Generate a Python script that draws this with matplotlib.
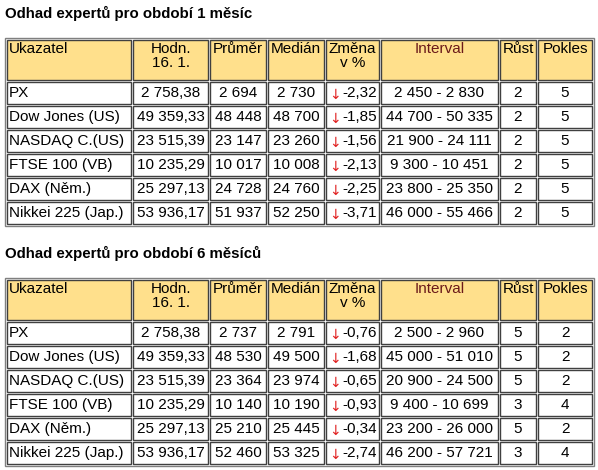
import matplotlib.pyplot as plt
from matplotlib.patches import Rectangle

plt.rcParams['font.family'] = ['Liberation Sans', 'DejaVu Sans']

titles = ["Odhad expertů pro období 1 měsíc", "Odhad expertů pro období 6 měsíců"]
headers = ["Ukazatel", "Hodn.\n16. 1.", "Průměr", "Medián", "Změna\nv %", "Interval", "Růst", "Pokles"]
names = ["PX", "Dow Jones (US)", "NASDAQ C.(US)", "FTSE 100 (VB)", "DAX (Něm.)", "Nikkei 225 (Jap.)"]
current = ["2 758,38", "49 359,33", "23 515,39", "10 235,29", "25 297,13", "53 936,17"]

avg_1m = ["2 694", "48 448", "23 147", "10 017", "24 728", "51 937"]
med_1m = ["2 730", "48 700", "23 260", "10 008", "24 760", "52 250"]
chg_1m = ["-2,32", "-1,85", "-1,56", "-2,13", "-2,25", "-3,71"]
int_1m = ["2 450 - 2 830", "44 700 - 50 335", "21 900 - 24 111", "9 300 - 10 451", "23 800 - 25 350", "46 000 - 55 466"]
up_1m = [2, 2, 2, 2, 2, 2]
down_1m = [5, 5, 5, 5, 5, 5]

avg_6m = ["2 737", "48 530", "23 364", "10 140", "25 210", "52 460"]
med_6m = ["2 791", "49 500", "23 974", "10 190", "25 445", "53 325"]
chg_6m = ["-0,76", "-1,68", "-0,65", "-0,93", "-0,34", "-2,74"]
int_6m = ["2 500 - 2 960", "45 000 - 51 010", "20 900 - 24 500", "9 400 - 10 699", "23 200 - 26 000", "46 200 - 57 721"]
up_6m = [5, 5, 5, 3, 5, 3]
down_6m = [2, 2, 2, 4, 2, 4]

col_edges = [(7, 131), (133, 208), (210, 266), (268, 324), (326, 379), (381, 498), (500, 536), (538, 592)]
fs = 11

fig = plt.figure(figsize=(5.98, 4.70), dpi=100)
ax = fig.add_axes([0, 0, 1, 1])
ax.set_xlim(0, 598)
ax.set_ylim(470, 0)
ax.axis('off')


def draw_table(top, title, avg, med, chg, itv, up, down):
    ax.text(5, top - 25, title, fontsize=10.8, fontweight='bold', va='center', ha='left')
    n = len(names)
    bottom = top + 2 + 40 + 2 + n * 24
    ax.add_patch(Rectangle((5, top), 589, bottom - top, fill=False, ec='#808080', lw=1))
    # header
    for j, (x0, x1) in enumerate(col_edges):
        ax.add_patch(Rectangle((x0, top + 2), x1 - x0, 40, fc='#FFE08C', ec='#404040', lw=1))
        col = '#6B1A1A' if headers[j] == "Interval" else 'black'
        if j == 0:
            ax.text(x0 + 2, top + 4, headers[j], fontsize=fs, va='top', ha='left', color=col)
        else:
            ax.text((x0 + x1) / 2, top + 4, headers[j], fontsize=fs, va='top', ha='center',
                    color=col, linespacing=1.0)
    for i in range(n):
        y0 = top + 44 + i * 24
        yc = y0 + 11
        vals = [names[i], current[i], avg[i], med[i], None, itv[i], str(up[i]), str(down[i])]
        for j, (x0, x1) in enumerate(col_edges):
            ax.add_patch(Rectangle((x0, y0), x1 - x0, 22, fc='white', ec='#404040', lw=1))
            if j == 0:
                ax.text(x0 + 2, yc, vals[j], fontsize=fs, va='center', ha='left')
            elif j == 4:
                ax.text(x0 + 3, yc + 2, "↓", fontsize=fs - 1, va='center', ha='left',
                        color='#E02020', family=['DejaVu Sans'])
                ax.text(x1 - 2, yc, chg[i], fontsize=fs, va='center', ha='right')
            else:
                ax.text((x0 + x1) / 2, yc, vals[j], fontsize=fs, va='center', ha='center')


draw_table(38, titles[0], avg_1m, med_1m, chg_1m, int_1m, up_1m, down_1m)
draw_table(278, titles[1], avg_6m, med_6m, chg_6m, int_6m, up_6m, down_6m)

fig.savefig('out.png', dpi=100)
